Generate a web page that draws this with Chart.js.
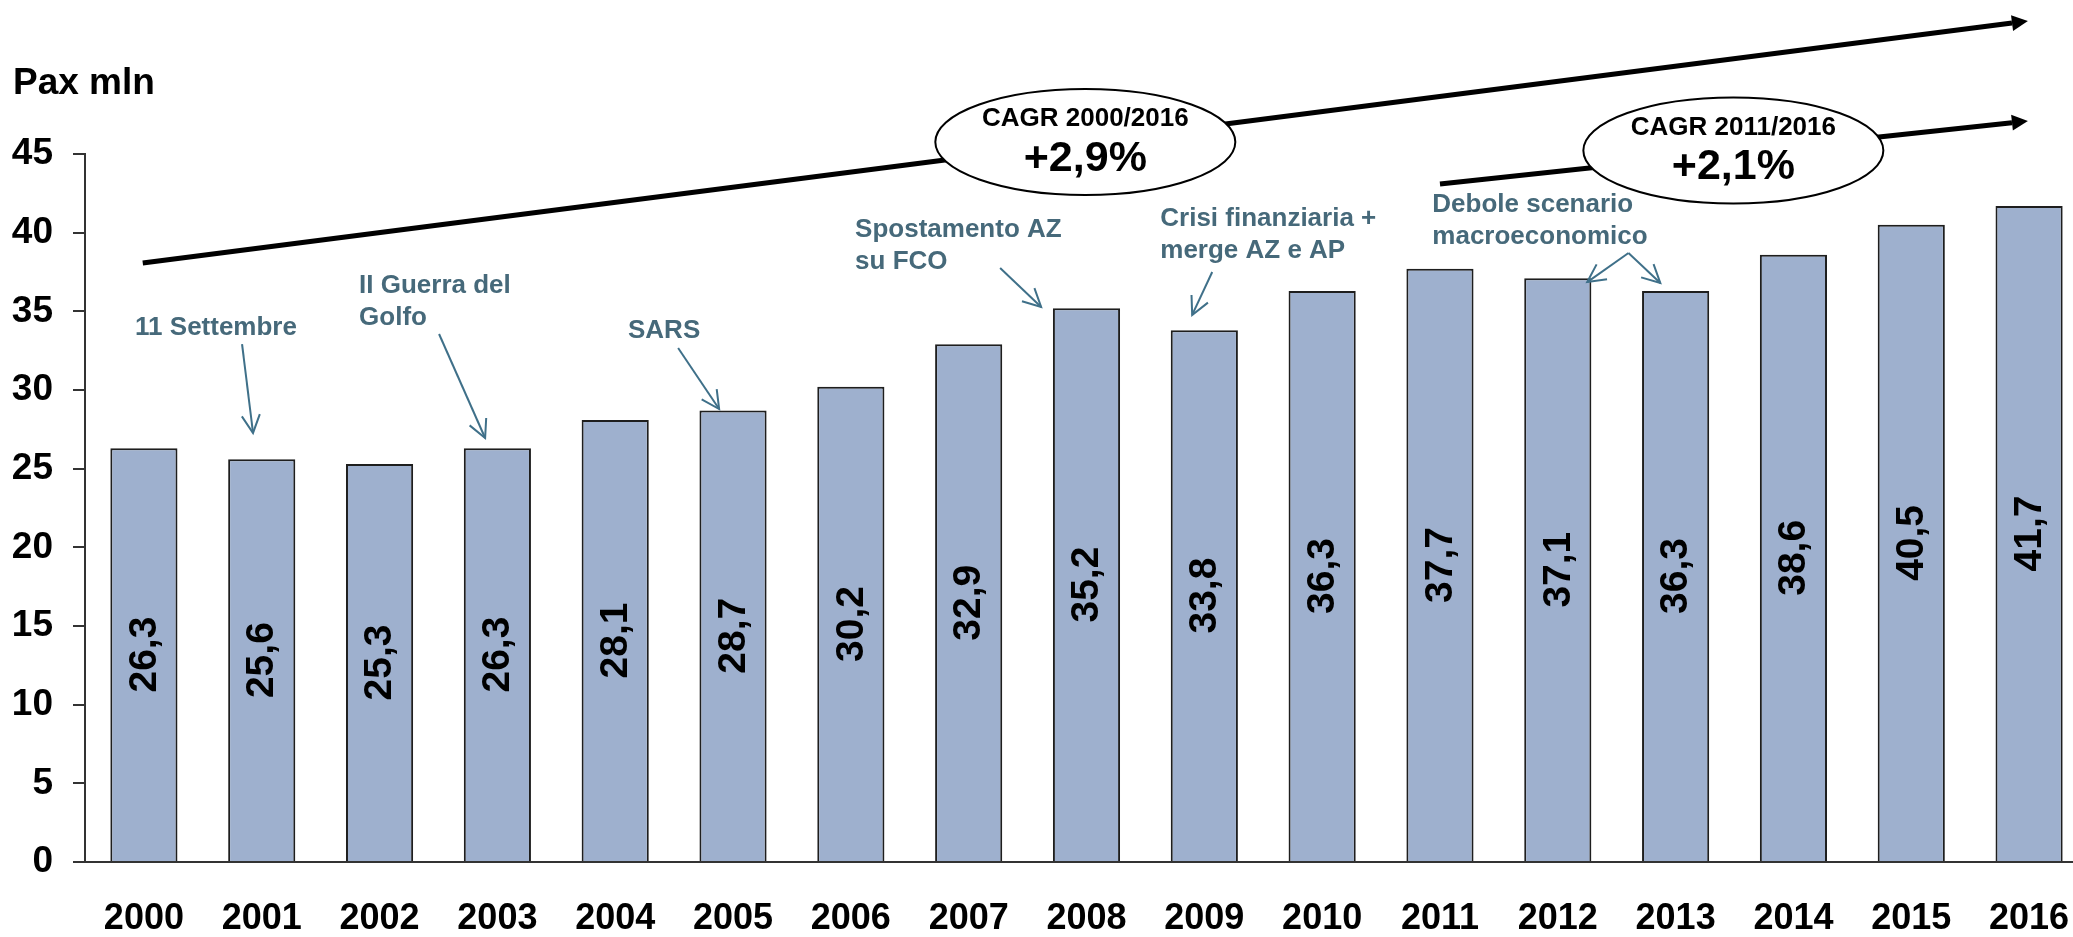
<!DOCTYPE html>
<html>
<head>
<meta charset="utf-8">
<script src="https://cdn.jsdelivr.net/npm/chart.js@4.4.1/dist/chart.umd.min.js"></script>
<style>
html,body{margin:0;padding:0;background:#fff;overflow:hidden;}
#wrap{position:relative;width:2110px;height:937px;}
</style>
</head>
<body>
<div id="wrap"><canvas id="c" width="2110" height="937"></canvas></div>
<script>
// ---- data ----
const years = ['2000','2001','2002','2003','2004','2005','2006','2007','2008','2009','2010','2011','2012','2013','2014','2015','2016'];
const paxMln = [26.3,25.6,25.3,26.3,28.1,28.7,30.2,32.9,35.2,33.8,36.3,37.7,37.1,36.3,38.6,40.5,41.7];
const yTickValues = [0,5,10,15,20,25,30,35,40,45];
const yAxisTitle = 'Pax mln';
const cagrTitles = ['CAGR 2000/2016','CAGR 2011/2016'];
const cagrValues = ['+2,9%','+2,1%'];
const eventTexts = [
  ['11 Settembre'],
  ['II Guerra del','Golfo'],
  ['SARS'],
  ['Spostamento AZ','su FCO'],
  ['Crisi finanziaria +','merge AZ e AP'],
  ['Debole scenario','macroeconomico']
];

// ---- annotation geometry (in data coordinates: x = category index, y = value) ----
const cagrLines = [
  {from:[-0.01,38.07], to:[15.99,53.45], ellipse:[7.99,45.76]},
  {from:[11.0,43.09], to:[15.99,47.1], ellipse:[13.49,45.22]}
];
const eventNotes = [
  {text:0, align:'center', at:[0.612,33.94], arrows:[[[0.833,32.92],[0.926,27.27]]]},
  {text:1, align:'left', at:[1.826,36.61], arrows:[[[2.505,33.56],[2.896,26.95]]]},
  {text:2, align:'center', at:[4.415,33.75], arrows:[[[4.534,32.67],[4.882,28.79]]]},
  {text:3, align:'left', at:[6.036,40.17], arrows:[[[7.267,37.75],[7.615,35.28]]]},
  {text:4, align:'left', at:[8.626,40.87], arrows:[[[9.067,37.5],[8.897,34.77]]]},
  {text:5, align:'left', at:[10.935,41.76], arrows:[[[12.60,38.71],[12.25,36.86]],[[12.60,38.71],[12.87,36.8]]]}
];

const FONT = "'Liberation Sans', Arial, Helvetica, sans-serif";
const NOTE_COLOR = '#46697A';
const ARROW_COLOR = '#3F7089';

const barLabels = {
  id:'barLabels',
  afterDatasetsDraw(chart){
    const ctx = chart.ctx;
    const meta = chart.getDatasetMeta(0);
    ctx.save();
    ctx.fillStyle = '#000';
    ctx.font = 'bold 39px ' + FONT;
    ctx.textAlign = 'center';
    ctx.textBaseline = 'middle';
    meta.data.forEach((bar, i) => {
      const cy = (bar.y + bar.base) / 2;
      ctx.save();
      ctx.translate(bar.x, cy);
      ctx.rotate(-Math.PI/2);
      ctx.fillText(paxMln[i].toFixed(1).replace('.', ','), 0, 1);
      ctx.restore();
    });
    ctx.restore();
  }
};

function openArrow(ctx, x1, y1, x2, y2){
  ctx.beginPath();
  ctx.moveTo(x1,y1); ctx.lineTo(x2,y2); ctx.stroke();
  const a = Math.atan2(y2-y1, x2-x1);
  const L = 20, s = 0.47;
  ctx.beginPath();
  ctx.moveTo(x2 - L*Math.cos(a - s), y2 - L*Math.sin(a - s));
  ctx.lineTo(x2, y2);
  ctx.lineTo(x2 - L*Math.cos(a + s), y2 - L*Math.sin(a + s));
  ctx.stroke();
}

const annotations = {
  id:'annotations',
  afterDraw(chart){
    const ctx = chart.ctx;
    const xs = chart.scales.x, ys = chart.scales.y;
    const P = p => [xs.getPixelForValue(p[0]), ys.getPixelForValue(p[1])];
    ctx.save();
    // axis title
    ctx.fillStyle = '#000';
    ctx.font = 'bold 37px ' + FONT;
    ctx.textAlign = 'left';
    ctx.textBaseline = 'middle';
    ctx.fillText(yAxisTitle, 13, 84);

    // CAGR trend arrows
    cagrLines.forEach((c, k) => {
      const [x1,y1] = P(c.from), [x2,y2] = P(c.to);
      const a = Math.atan2(y2-y1, x2-x1);
      const hl = 16, hw = 8;
      const bx = x2 - hl*Math.cos(a), by = y2 - hl*Math.sin(a);
      ctx.strokeStyle = '#000';
      ctx.lineWidth = 5;
      ctx.lineCap = 'butt';
      ctx.beginPath(); ctx.moveTo(x1,y1); ctx.lineTo(bx,by); ctx.stroke();
      ctx.fillStyle = '#000';
      ctx.beginPath();
      ctx.moveTo(x2,y2);
      ctx.lineTo(bx + hw*Math.sin(a), by - hw*Math.cos(a));
      ctx.lineTo(bx - hw*Math.sin(a), by + hw*Math.cos(a));
      ctx.closePath(); ctx.fill();
      // ellipse
      const [ex,ey] = P(c.ellipse);
      ctx.beginPath();
      ctx.ellipse(ex, ey, 150, 53, 0, 0, Math.PI*2);
      ctx.fillStyle = '#fff'; ctx.fill();
      ctx.lineWidth = 2; ctx.strokeStyle = '#000'; ctx.stroke();
      ctx.fillStyle = '#000';
      ctx.textAlign = 'center';
      ctx.textBaseline = 'middle';
      ctx.font = 'bold 26px ' + FONT;
      ctx.fillText(cagrTitles[k], ex, ey - 23);
      ctx.font = 'bold 43px ' + FONT;
      ctx.fillText(cagrValues[k], ex, ey + 17);
    });

    // event notes
    eventNotes.forEach(n => {
      const [tx,ty] = P(n.at);
      ctx.fillStyle = NOTE_COLOR;
      ctx.font = 'bold 26px ' + FONT;
      ctx.textAlign = n.align;
      ctx.textBaseline = 'middle';
      eventTexts[n.text].forEach((line, j) => ctx.fillText(line, tx, ty + j*32));
      ctx.strokeStyle = ARROW_COLOR;
      ctx.lineWidth = 2;
      n.arrows.forEach(ar => {
        const [x1,y1] = P(ar[0]), [x2,y2] = P(ar[1]);
        openArrow(ctx, x1, y1, x2, y2);
      });
    });
    ctx.restore();
  }
};

new Chart(document.getElementById('c'), {
  type:'bar',
  data:{
    labels: years,
    datasets:[{
      data: paxMln,
      backgroundColor:'#9EB0CE',
      borderColor:'#1E1E1E',
      borderWidth:2,
      categoryPercentage:1.0,
      barPercentage:0.57
    }]
  },
  options:{
    responsive:false,
    animation:false,
    devicePixelRatio:1,
    layout:{padding:{top:154,right:22,bottom:0,left:0}},
    plugins:{legend:{display:false}, tooltip:{enabled:false}, title:{display:false}},
    scales:{
      x:{
        afterFit: s => { s.height = 75; },
        border:{display:true, color:'#333', width:2},
        grid:{display:false, drawTicks:false},
        ticks:{padding:35, color:'#000', maxRotation:0, autoSkip:false,
               font:{family:FONT, weight:'bold', size:36}}
      },
      y:{
        min:0, max:45,
        afterFit: s => { s.width = 85; },
        afterBuildTicks: s => { s.ticks = yTickValues.map(v => ({value:v})); },
        border:{display:true, color:'#333', width:2},
        grid:{drawOnChartArea:false, drawTicks:true, tickLength:12, color:'#333', lineWidth:2},
        ticks:{padding:20, color:'#000', font:{family:FONT, weight:'bold', size:37}}
      }
    }
  },
  plugins:[barLabels, annotations]
});
</script>
</body>
</html>
